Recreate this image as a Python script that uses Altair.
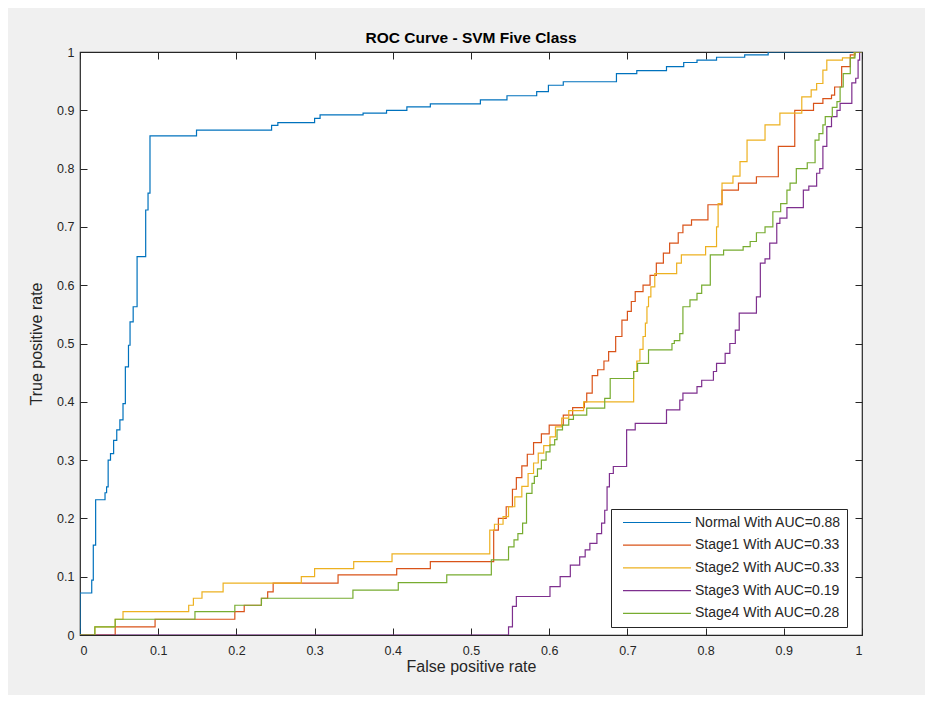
import altair as alt
import pandas as pd

# ---------------- data ----------------
series_names = [
    "Normal With AUC=0.88",
    "Stage1 With AUC=0.33",
    "Stage2 With AUC=0.33",
    "Stage3 With AUC=0.19",
    "Stage4 With AUC=0.28",
]
series_colors = ["#0072BD", "#D95319", "#EDB120", "#7E2F8E", "#77AC30"]

normal_fpr = [0, 0, 0.015, 0.017, 0.020, 0.032, 0.034, 0.036, 0.039, 0.043, 0.047, 0.051,
              0.055, 0.058, 0.062, 0.064, 0.068, 0.073, 0.084, 0.087, 0.0895, 0.149,
              0.245, 0.253, 0.300, 0.307, 0.362, 0.392, 0.418, 0.448, 0.512, 0.546,
              0.584, 0.599, 0.618, 0.686, 0.712, 0.750, 0.772, 0.789, 0.814, 0.850,
              0.880, 1.0]
normal_tpr = [0, 0.072, 0.094, 0.154, 0.232, 0.244, 0.254, 0.300, 0.311, 0.334, 0.352, 0.369,
              0.397, 0.460, 0.497, 0.537, 0.563, 0.649, 0.729, 0.758, 0.856, 0.866,
              0.874, 0.879, 0.886, 0.892, 0.895, 0.900, 0.906, 0.911, 0.918, 0.925,
              0.932, 0.943, 0.949, 0.963, 0.968, 0.975, 0.982, 0.986, 0.991, 0.995,
              1.0, 1.0]

stage1_fpr = [0, 0.045, 0.096, 0.198, 0.210, 0.232, 0.240, 0.247, 0.330, 0.405, 0.448,
              0.529, 0.535, 0.545, 0.553, 0.558, 0.565, 0.572, 0.580, 0.590, 0.600,
              0.618, 0.630, 0.645, 0.648, 0.655, 0.662, 0.670, 0.676, 0.685, 0.693,
              0.700, 0.705, 0.710, 0.720, 0.729, 0.737, 0.746, 0.754, 0.765, 0.771,
              0.782, 0.803, 0.821, 0.842, 0.865, 0.893, 0.914, 0.938, 0.950, 0.961,
              0.965, 0.974, 0.985, 0.991, 1.0]
stage1_tpr = [0, 0.014, 0.027, 0.040, 0.051, 0.063, 0.074, 0.089, 0.103, 0.114, 0.126,
              0.180, 0.200, 0.220, 0.250, 0.270, 0.290, 0.310, 0.330, 0.345, 0.360,
              0.377, 0.390, 0.400, 0.415, 0.445, 0.455, 0.470, 0.486, 0.512, 0.540,
              0.555, 0.572, 0.589, 0.600, 0.617, 0.638, 0.655, 0.672, 0.690, 0.703,
              0.712, 0.738, 0.763, 0.775, 0.786, 0.838, 0.900, 0.912, 0.920, 0.926,
              0.940, 0.975, 0.995, 1.0, 1.0]

stage2_fpr = [0, 0.019, 0.045, 0.055, 0.139, 0.145, 0.156, 0.183, 0.283, 0.300, 0.350,
              0.399, 0.524, 0.530, 0.541, 0.548, 0.556, 0.565, 0.573, 0.580, 0.586,
              0.593, 0.601, 0.608, 0.616, 0.625, 0.644, 0.708, 0.712, 0.716, 0.720,
              0.723, 0.725, 0.727, 0.730, 0.735, 0.763, 0.769, 0.800, 0.814, 0.816,
              0.821, 0.835, 0.844, 0.853, 0.876, 0.895, 0.923, 0.935, 0.942, 0.950,
              0.955, 0.975, 0.990, 1.0]
stage2_tpr = [0, 0.014, 0.027, 0.040, 0.051, 0.063, 0.074, 0.089, 0.100, 0.114, 0.126,
              0.139, 0.180, 0.190, 0.203, 0.220, 0.237, 0.255, 0.277, 0.295, 0.312,
              0.325, 0.340, 0.357, 0.372, 0.385, 0.400, 0.452, 0.470, 0.490, 0.512,
              0.535, 0.563, 0.580, 0.597, 0.620, 0.638, 0.652, 0.666, 0.700, 0.740,
              0.775, 0.787, 0.812, 0.849, 0.875, 0.895, 0.923, 0.935, 0.946, 0.969,
              0.986, 0.990, 1.0, 1.0]

stage3_fpr = [0, 0.548, 0.553, 0.558, 0.601, 0.614, 0.627, 0.639, 0.646, 0.652, 0.661,
              0.667, 0.671, 0.674, 0.677, 0.682, 0.699, 0.710, 0.750, 0.767, 0.771,
              0.789, 0.795, 0.810, 0.814, 0.825, 0.831, 0.838, 0.843, 0.865, 0.870,
              0.876, 0.882, 0.891, 0.895, 0.904, 0.925, 0.932, 0.942, 0.946, 0.950,
              0.955, 0.961, 0.968, 0.972, 0.987, 0.992, 0.995, 0.997, 1.0]
stage3_tpr = [0, 0.014, 0.049, 0.066, 0.083, 0.100, 0.120, 0.134, 0.146, 0.157, 0.174,
              0.192, 0.214, 0.254, 0.277, 0.289, 0.352, 0.363, 0.386, 0.403, 0.415,
              0.426, 0.437, 0.452, 0.466, 0.483, 0.500, 0.523, 0.552, 0.580, 0.638,
              0.645, 0.672, 0.706, 0.715, 0.733, 0.763, 0.770, 0.792, 0.800, 0.838,
              0.872, 0.889, 0.900, 0.912, 0.947, 0.955, 0.986, 1.0, 1.0]

stage4_fpr = [0, 0.019, 0.045, 0.147, 0.198, 0.232, 0.349, 0.407, 0.469, 0.526, 0.548,
              0.555, 0.560, 0.566, 0.571, 0.578, 0.581, 0.585, 0.590, 0.596, 0.601,
              0.607, 0.610, 0.617, 0.625, 0.631, 0.648, 0.671, 0.678, 0.708, 0.713,
              0.727, 0.757, 0.760, 0.767, 0.771, 0.780, 0.789, 0.795, 0.806, 0.823,
              0.848, 0.857, 0.865, 0.876, 0.886, 0.896, 0.904, 0.908, 0.916, 0.930,
              0.940, 0.945, 0.950, 0.953, 0.962, 0.968, 0.972, 0.976, 0.985, 0.991, 1.0]
stage4_tpr = [0, 0.014, 0.027, 0.040, 0.051, 0.063, 0.077, 0.090, 0.103, 0.129, 0.151,
              0.163, 0.174, 0.192, 0.243, 0.260, 0.272, 0.285, 0.300, 0.314, 0.326,
              0.335, 0.352, 0.360, 0.370, 0.377, 0.389, 0.406, 0.440, 0.452, 0.466,
              0.489, 0.500, 0.505, 0.517, 0.563, 0.575, 0.586, 0.600, 0.652, 0.660,
              0.666, 0.675, 0.690, 0.700, 0.726, 0.740, 0.763, 0.775, 0.800, 0.810,
              0.849, 0.860, 0.875, 0.889, 0.905, 0.915, 0.940, 0.963, 0.990, 1.0, 1.0]

tick_values = [0, 0.1, 0.2, 0.3, 0.4, 0.5, 0.6, 0.7, 0.8, 0.9, 1.0]

# ---------------- build table ----------------
all_series = [
    (normal_fpr, normal_tpr),
    (stage1_fpr, stage1_tpr),
    (stage2_fpr, stage2_tpr),
    (stage3_fpr, stage3_tpr),
    (stage4_fpr, stage4_tpr),
]
rows = []
for k, (xs, ys) in enumerate(all_series):
    for i, (xv, yv) in enumerate(zip(xs, ys)):
        rows.append({"series": series_names[k], "fpr": xv, "tpr": yv, "idx": i})
df = pd.DataFrame(rows)

FONT = "Liberation Sans"
AX = "#262626"

x_scale = alt.Scale(domain=[0, 1], nice=False, zero=False)
y_scale = alt.Scale(domain=[0, 1], nice=False, zero=False)

common_axis = dict(values=tick_values, format="~g", grid=False, domain=False,
                   tickSize=7, offset=-7, tickColor=AX, tickWidth=1,
                   labelFont=FONT, labelFontSize=12.5, labelColor=AX,
                   titleFont=FONT, titleFontSize=16, titleFontWeight="normal",
                   titleColor=AX)

# legend sample line: a long horizontal stroke inside the legend box
SYM = 13.0          # nominal symbol box (px)
HALF = SYM / 2.0
LEAD = 5.0          # gap before the sample line (px)
LINE_LEN = 68.0     # visible sample line length (px)
start_u = -1.0 + LEAD / HALF
end_u = start_u + LINE_LEN / HALF
sample_path = "M%.3f,0H%.3f" % (start_u, end_u)

lines = alt.Chart(df).mark_line(interpolate="step-after", strokeWidth=1.2, clip=True).encode(
    x=alt.X("fpr:Q", scale=x_scale,
            axis=alt.Axis(orient="bottom", title="False positive rate",
                          labelPadding=9, titlePadding=2, **common_axis)),
    y=alt.Y("tpr:Q", scale=y_scale,
            axis=alt.Axis(orient="left", title="True positive rate",
                          labelPadding=6, titlePadding=12, **common_axis)),
    color=alt.Color("series:N",
                    scale=alt.Scale(domain=series_names, range=series_colors),
                    legend=alt.Legend(title=None, orient="none", legendX=531, legendY=457,
                                      symbolType=sample_path, symbolSize=SYM * SYM,
                                      symbolStrokeWidth=1.2, symbolFillColor="transparent",
                                      labelFont=FONT, labelFontSize=14, labelColor=AX,
                                      labelLimit=400, rowPadding=7.7, padding=6,
                                      labelOffset=LEAD + LINE_LEN - SYM + 3,
                                      fillColor="white", strokeColor=AX)),
    order="idx:Q",
)

frame = alt.Chart(df).mark_point(opacity=0).encode(
    x=alt.X("fpr:Q", scale=x_scale,
            axis=alt.Axis(orient="top", title=None, labels=False, **common_axis)),
    y=alt.Y("tpr:Q", scale=y_scale,
            axis=alt.Axis(orient="right", title=None, labels=False, **common_axis)),
)

chart = alt.layer(lines, frame).resolve_axis(x="independent", y="independent").properties(
    width=782,
    height=583,
    title=alt.TitleParams("ROC Curve - SVM Five Class", font=FONT, fontSize=15.5,
                          fontWeight="bold", color="#000000", anchor="middle", offset=0),
    autosize=alt.AutoSizeParams(type="none"),
    padding={"left": 72, "top": 44, "right": 63, "bottom": 60},
    background="#f0f0f0",
).configure_view(
    fill="white", stroke=AX, strokeWidth=1.2
)

chart.save("out.html", embed_options={"renderer": "svg", "actions": False})
